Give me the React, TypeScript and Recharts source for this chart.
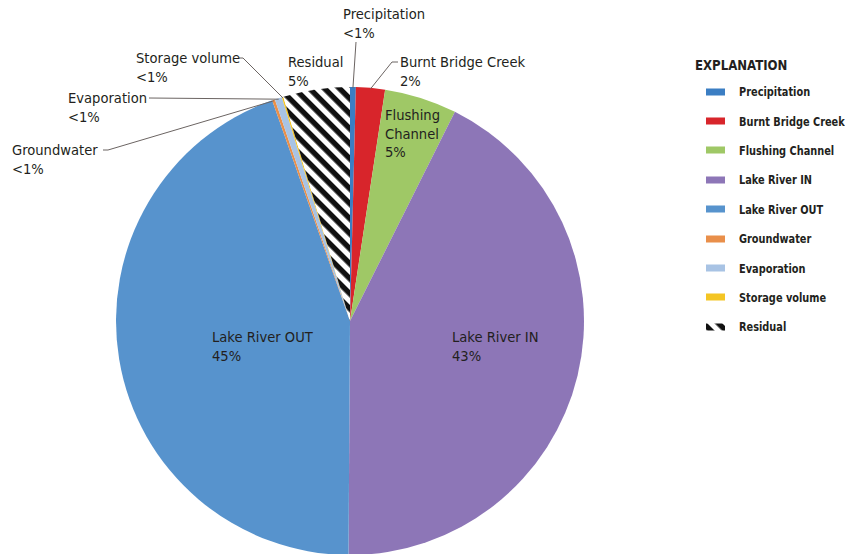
import { PieChart, Pie, Cell, Legend } from 'recharts';

const names = [
    'Precipitation',
    'Burnt Bridge Creek',
    'Flushing Channel',
    'Lake River IN',
    'Lake River OUT',
    'Groundwater',
    'Evaporation',
    'Storage volume',
    'Residual',
];
// percent of the water budget
const shares = [0.4, 2.0, 5.0, 42.7, 44.5, 0.2, 0.5, 0.1, 4.6];
const colors = [
    '#3b7ec3',
    '#d8252b',
    '#9fc866',
    '#8d76b7',
    '#5793cd',
    '#e98f4a',
    '#a8c3e4',
    '#f4c524',
    'url(#hatch)',
];

const data = names.map((name, i) => ({ name, value: shares[i] }));

const FONT = "'DejaVu Sans Condensed', 'Liberation Sans Narrow', 'DejaVu Sans', sans-serif";
const INK = '#231f20';
const LEADER = '#6b6462';

// where each label sits; leader points run from the text toward the slice
type Layout = { x: number; y: number; lines?: string[]; leader?: number[][] };
const labelLayout: Record<string, Layout> = {
    'Precipitation': { x: 343, y: 19, leader: [[356, 42]] },
    'Burnt Bridge Creek': { x: 400, y: 67, leader: [[398, 62], [392, 62]] },
    'Flushing Channel': { x: 385, y: 120, lines: ['Flushing', 'Channel'] },
    'Lake River IN': { x: 452, y: 342 },
    'Lake River OUT': { x: 212, y: 342 },
    'Groundwater': { x: 12, y: 155, leader: [[103, 150], [108, 150]] },
    'Evaporation': { x: 68, y: 103, leader: [[149, 98]] },
    'Storage volume': { x: 136, y: 63, leader: [[239, 58], [243, 58]] },
    'Residual': { x: 288, y: 67 },
};

const RADIAN = Math.PI / 180;

function pctText(v: number) {
    return v < 1 ? '<1%' : `${Math.round(v)}%`;
}

function renderLabel(props: any) {
    const { cx, cy, midAngle, outerRadius, index } = props;
    const name = names[index];
    const lay = labelLayout[name];
    if (!lay) return null;
    const lines = [...(lay.lines ?? [name]), pctText(shares[index])];
    const r = outerRadius - 1;
    const ex = cx + r * Math.cos(-midAngle * RADIAN);
    const ey = cy + r * Math.sin(-midAngle * RADIAN);
    const pts = lay.leader ? [...lay.leader, [ex, ey]] : null;
    return (
        <g key={`lbl-${index}`}>
            {pts && (
                <polyline
                    points={pts.map((p) => p.join(',')).join(' ')}
                    fill="none"
                    stroke={LEADER}
                    strokeWidth={1}
                />
            )}
            <text
                x={lay.x}
                y={lay.y}
                fill={INK}
                fontFamily={FONT}
                fontSize={14.6}
                style={{ fontStretch: 'condensed' }}
            >
                {lines.map((t, k) => (
                    <tspan key={k} x={lay.x} dy={k === 0 ? 0 : 18.5}>
                        {t}
                    </tspan>
                ))}
            </text>
        </g>
    );
}

// squeeze the bold legend text a little, the original uses a condensed face
const squeeze = { display: 'inline-block', transform: 'scaleX(0.87)', transformOrigin: 'left center' } as const;

function Explanation() {
    return (
        <div style={{ fontFamily: FONT, fontStretch: 'condensed', color: INK, whiteSpace: 'nowrap' }}>
            <div style={{ fontSize: 14.5, fontWeight: 700, lineHeight: '18px', height: 18, marginBottom: 3 }}>
                <span style={{ ...squeeze, transform: 'scaleX(0.9)' }}>EXPLANATION</span>
            </div>
            {names.map((n, i) => (
                <div key={n} style={{ display: 'flex', alignItems: 'center', height: 29.4 }}>
                    <svg width={20} height={10} style={{ marginLeft: 11, marginRight: 13, flex: 'none' }}>
                        <rect x={0} y={1.5} width={19} height={7} fill={colors[i]} />
                    </svg>
                    <span style={{ ...squeeze, fontSize: 12.5, fontWeight: 700 }}>{n}</span>
                </div>
            ))}
        </div>
    );
}

export default function App() {
    return (
        <div style={{ position: 'absolute', left: 0, top: 0, width: 845, height: 554, background: '#fff' }}>
            <svg width={0} height={0} style={{ position: 'absolute' }}>
                <defs>
                    <pattern
                        id="hatch"
                        patternUnits="userSpaceOnUse"
                        width={10.6}
                        height={10.6}
                        patternTransform="rotate(45)"
                    >
                        <rect x={0} y={0} width={10.6} height={10.6} fill="#fff" />
                        <rect x={0} y={0} width={10.6} height={5.4} fill="#111" />
                    </pattern>
                </defs>
            </svg>
            <PieChart width={845} height={554} margin={{ top: 0, right: 0, bottom: 0, left: 0 }}>
                <Pie
                    data={data}
                    dataKey="value"
                    nameKey="name"
                    cx={350}
                    cy={321}
                    outerRadius={234}
                    startAngle={90}
                    endAngle={-270}
                    stroke="none"
                    label={renderLabel}
                    labelLine={false}
                    isAnimationActive={false}
                >
                    {data.map((d, i) => (
                        <Cell key={`cell-${i}`} fill={colors[i]} stroke="none" />
                    ))}
                </Pie>
                <Legend
                    layout="vertical"
                    align="right"
                    verticalAlign="top"
                    content={() => <Explanation />}
                    wrapperStyle={{ left: 695, top: 56, right: 'auto', width: 150 }}
                />
            </PieChart>
        </div>
    );
}
